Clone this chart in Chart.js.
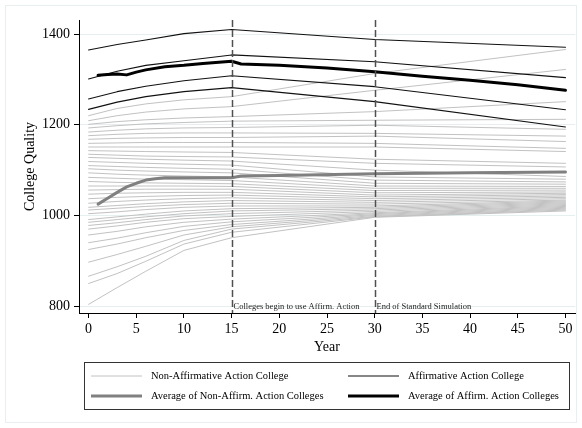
<!DOCTYPE html>
<html><head><meta charset="utf-8">
<script src="https://cdn.jsdelivr.net/npm/chart.js@4"></script>
<style>html,body{margin:0;padding:0;background:#fff}</style>
</head><body>
<canvas id="c" width="582" height="428"></canvas>
<script>
// ---------- data ----------
const years = [0, 3, 6, 10, 15, 30, 50];

const nonAffirmColleges = [
  [1220, 1236, 1246, 1255, 1262, 1313, 1366],
  [1209, 1220, 1228, 1235, 1240, 1276, 1322],
  [1201, 1207, 1211, 1215, 1218, 1229, 1251],
  [1193, 1198, 1202, 1205, 1208, 1210, 1212],
  [1184, 1188, 1191, 1193, 1194, 1199, 1190],
  [1176, 1179, 1181, 1182, 1182, 1181, 1175],
  [1168, 1170, 1171, 1172, 1172, 1175, 1163],
  [1159, 1160, 1161, 1161, 1161, 1159, 1148],
  [1151, 1151, 1151, 1151, 1151, 1151, 1141],
  [1143, 1142, 1141, 1140, 1139, 1124, 1115],
  [1135, 1133, 1131, 1130, 1129, 1115, 1107],
  [1128, 1126, 1124, 1122, 1120, 1100, 1086],
  [1119, 1117, 1115, 1113, 1111, 1085, 1080],
  [1110, 1108, 1106, 1104, 1102, 1078, 1074],
  [1103, 1100, 1098, 1096, 1094, 1071, 1069],
  [1094, 1091, 1089, 1087, 1085, 1065, 1064],
  [1084, 1082, 1080, 1079, 1077, 1060, 1060],
  [1075, 1073, 1072, 1071, 1070, 1055, 1056],
  [1065, 1065, 1065, 1065, 1064, 1050, 1052],
  [1056, 1057, 1058, 1058, 1058, 1045, 1049],
  [1047, 1049, 1050, 1051, 1051, 1041, 1046],
  [1037, 1040, 1042, 1044, 1045, 1037, 1043],
  [1027, 1031, 1034, 1037, 1039, 1033, 1040],
  [1018, 1022, 1026, 1030, 1033, 1029, 1037],
  [1012, 1016, 1020, 1024, 1027, 1025, 1034],
  [1004, 1008, 1013, 1018, 1021, 1021, 1032],
  [ 991,  997, 1003, 1010, 1015, 1018, 1030],
  [ 985,  991,  997, 1004, 1010, 1015, 1028],
  [ 978,  984,  991,  999, 1004, 1012, 1026],
  [ 970,  977,  985,  993,  998, 1009, 1024],
  [ 957,  965,  975,  985,  992, 1006, 1022],
  [ 940,  950,  962,  976,  986, 1004, 1020],
  [ 925,  937,  951,  967,  980, 1002, 1018],
  [ 897,  914,  932,  957,  975, 1000, 1016],
  [ 866,  887,  910,  945,  970,  998, 1014],
  [ 850,  872,  899,  937,  963,  997, 1012],
  [ 804,  841,  877,  923,  951,  996, 1010]
];

const affirmColleges = [
  [1365, 1377, 1387, 1401, 1410, 1388, 1371],
  [1301, 1318, 1331, 1341, 1354, 1339, 1304],
  [1257, 1273, 1285, 1297, 1308, 1284, 1233],
  [1234, 1250, 1262, 1273, 1282, 1251, 1195]
];

const avgNonAffirmYears = [1, 2, 3, 4, 5, 6, 7, 8, 15, 16, 20, 30, 40, 50];
const avgNonAffirm      = [1025, 1038, 1051, 1063, 1071, 1078, 1081, 1083, 1083, 1087, 1088, 1092, 1094, 1096];

const avgAffirmYears = [1, 2, 3, 4, 5, 6, 8, 10, 12, 15, 16, 20, 25, 30, 35, 40, 45, 50];
const avgAffirm      = [1309, 1311, 1312, 1310, 1316, 1321, 1328, 1331, 1335, 1340, 1334, 1331, 1325, 1317, 1307, 1298, 1288, 1276];

const xTicks = [0, 5, 10, 15, 20, 25, 30, 35, 40, 45, 50];
const yTicks = [800, 1000, 1200, 1400];

const markerYears  = [15, 30];
const markerLabels = ['Colleges begin to use Affirm. Action', 'End of Standard Simulation'];

const seriesLabels = [
  'Non-Affirmative Action College',
  'Affirmative Action College',
  'Average of Non-Affirm. Action Colleges',
  'Average of Affirm. Action Colleges'
];
const xTitle = 'Year';
const yTitle = 'College Quality';

// ---------- styles ----------
const SERIF = "'Liberation Serif', 'Times New Roman', serif";
const styles = [
  { color: '#c2c2c2', width: 1 },
  { color: '#111111', width: 1.1 },
  { color: '#808080', width: 3 },
  { color: '#000000', width: 3 }
];

const toPts = (xs, ys) => xs.map((x, i) => ({ x, y: ys[i] }));
const datasets = [];
datasets.push({ label: seriesLabels[3], data: toPts(avgAffirmYears, avgAffirm),
  borderColor: styles[3].color, borderWidth: styles[3].width, order: 0 });
datasets.push({ label: seriesLabels[2], data: toPts(avgNonAffirmYears, avgNonAffirm),
  borderColor: styles[2].color, borderWidth: styles[2].width, order: 1 });
affirmColleges.forEach(row => datasets.push({ label: seriesLabels[1], data: toPts(years, row),
  borderColor: styles[1].color, borderWidth: styles[1].width, order: 2 }));
nonAffirmColleges.forEach(row => datasets.push({ label: seriesLabels[0], data: toPts(years, row),
  borderColor: styles[0].color, borderWidth: styles[0].width, order: 3 }));
datasets.forEach(d => { d.pointRadius = 0; d.tension = 0; d.fill = false; d.borderCapStyle = 'round'; d.borderJoinStyle = 'round'; });

const extras = {
  id: 'extras',
  beforeDraw(chart) {
    const c = chart.ctx;
    c.save();
    c.fillStyle = '#fff';
    c.fillRect(0, 0, chart.width, chart.height);
    c.strokeStyle = '#e9eef0';
    c.lineWidth = 1;
    c.strokeRect(5.5, 5.5, 571, 417);
    c.restore();
  },
  afterDatasetsDraw(chart) {
    const c = chart.ctx, xs = chart.scales.x, a = chart.chartArea;
    c.save();
    c.strokeStyle = '#505050';
    c.lineWidth = 1.5;
    c.setLineDash([7, 3]);
    markerYears.forEach((yr, i) => {
      const px = Math.round(xs.getPixelForValue(yr)) + 0.5;
      c.beginPath(); c.moveTo(px, a.top); c.lineTo(px, a.bottom); c.stroke();
      c.fillStyle = '#222';
      c.font = '8.5px ' + SERIF;
      c.textBaseline = 'middle';
      c.textAlign = 'left';
      c.fillText(markerLabels[i], px + 1, a.bottom - 6);
    });
    c.restore();
  },
  afterDraw(chart) {
    const c = chart.ctx, a = chart.chartArea;
    c.save();
    c.fillStyle = '#000';
    c.font = '14px ' + SERIF;
    c.textAlign = 'center'; c.textBaseline = 'middle';
    c.fillText(xTitle, (a.left + a.right) / 2, 347);
    c.translate(30, (a.top + a.bottom) / 2);
    c.rotate(-Math.PI / 2);
    c.fillText(yTitle, 0, 0);
    c.restore();

    // legend
    c.save();
    c.strokeStyle = '#333'; c.lineWidth = 1;
    c.strokeRect(84.5, 362.5, 485, 47);
    const cols = [91, 348], rows = [376, 396];
    c.font = '10.5px ' + SERIF; c.fillStyle = '#000';
    c.textAlign = 'left'; c.textBaseline = 'middle';
    seriesLabels.forEach((lab, i) => {
      const x = cols[i % 2], y = rows[Math.floor(i / 2)];
      c.strokeStyle = styles[i].color; c.lineWidth = styles[i].width;
      c.beginPath(); c.moveTo(x, y); c.lineTo(x + 51, y); c.stroke();
      c.fillText(lab, x + 60, y);
    });
    c.restore();
  }
};

new Chart(document.getElementById('c'), {
  type: 'line',
  data: { datasets },
  options: {
    responsive: false,
    animation: false,
    devicePixelRatio: 1,
    layout: { padding: { top: 20, right: 7, left: 0, bottom: 0 } },
    plugins: { legend: { display: false }, tooltip: { enabled: false } },
    scales: {
      x: {
        type: 'linear', min: -1, max: 51,
        afterBuildTicks: s => { s.ticks = xTicks.map(v => ({ value: v })); },
        afterFit: s => { s.height = 115; },
        grid: { display: true, drawOnChartArea: false, drawTicks: true, tickLength: 5, tickColor: '#000' },
        border: { display: true, color: '#000', width: 1 },
        ticks: { color: '#000', font: { family: SERIF, size: 14 }, padding: 3, maxRotation: 0,
                 callback: v => String(v) }
      },
      y: {
        type: 'linear', min: 785, max: 1431,
        afterBuildTicks: s => { s.ticks = yTicks.map(v => ({ value: v })); },
        afterFit: s => { s.width = 79; },
        grid: { display: true, color: '#e6eef0', drawTicks: true, tickLength: 5, tickColor: '#000' },
        border: { display: true, color: '#000', width: 1 },
        ticks: { color: '#000', font: { family: SERIF, size: 14 }, padding: 4,
                 callback: v => String(v) }
      }
    }
  },
  plugins: [extras]
});
</script>
</body></html>
